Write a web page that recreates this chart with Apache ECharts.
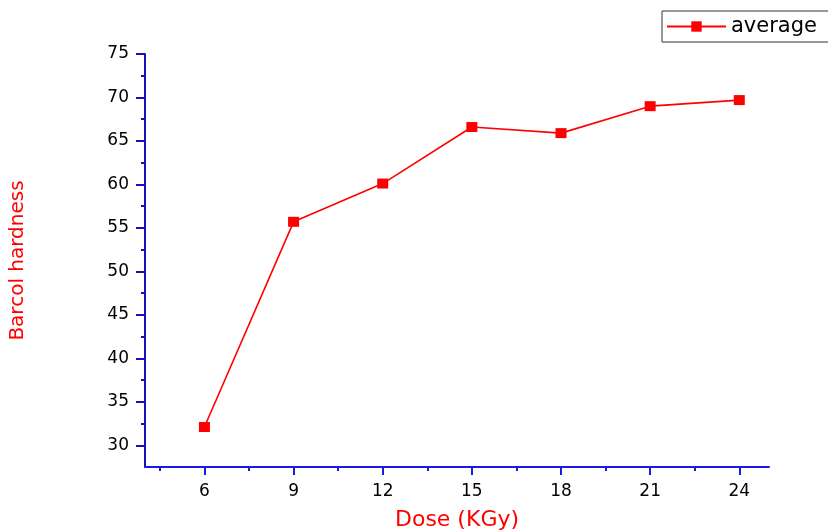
<!DOCTYPE html>
<html>
<head>
<meta charset="utf-8">
<script src="https://cdn.jsdelivr.net/npm/echarts@6/dist/echarts.min.js"></script>
<style>html,body{margin:0;padding:0;background:#fff}#c{width:828px;height:532px}</style>
</head>
<body>
<div id="c"></div>
<script>
var doses = [6, 9, 12, 15, 18, 21, 24];
var average = [32.1, 55.7, 60.1, 66.6, 65.9, 69.0, 69.7];
var yMajorTicks = [30, 35, 40, 45, 50, 55, 60, 65, 70, 75];
var yMinorTicks = [32.5, 37.5, 42.5, 47.5, 52.5, 57.5, 62.5, 67.5, 72.5];
var xMajorTicks = [6, 9, 12, 15, 18, 21, 24];
var xMinorTicks = [4.5, 7.5, 10.5, 13.5, 16.5, 19.5, 22.5];

var xAxisColor = '#1a1ae6';
var yAxisColor = '#1414b4';
var font = 'DejaVu Sans';
var chart = echarts.init(document.getElementById('c'), null, {renderer: 'canvas'});
var pts = doses.map(function (d, i) { return [d, average[i]]; });

chart.setOption({
  animation: false,
  backgroundColor: '#fff',
  grid: {left: 145, right: 59, top: 54, bottom: 65, containLabel: false, outerBoundsMode: 'none'},
  legend: {
    data: ['average'], left: 662, top: 11,
    itemWidth: 59, itemHeight: 13, itemGap: 8,
    padding: [5, 30, 5, 4],
    borderColor: '#333', borderWidth: 1, borderRadius: 0,
    textStyle: {fontFamily: font, fontSize: 21, color: '#000'}
  },
  xAxis: [{
    type: 'value', min: 4, max: 25,
    name: 'Dose (KGy)', nameLocation: 'middle', nameGap: 42,
    nameTextStyle: {fontFamily: font, fontSize: 22, color: '#ff0000'},
    axisLine: {show: true, lineStyle: {color: xAxisColor, width: 2}},
    axisTick: {show: true, inside: false, length: 8, customValues: xMajorTicks, lineStyle: {color: xAxisColor, width: 2}},
    axisLabel: {customValues: xMajorTicks, margin: 16, fontFamily: font, fontSize: 17, color: '#000'},
    splitLine: {show: false}
  }, {
    type: 'value', min: 4, max: 25, position: 'bottom',
    axisLine: {show: false},
    axisTick: {show: true, inside: false, length: 4, customValues: xMinorTicks, lineStyle: {color: xAxisColor, width: 2}},
    axisLabel: {show: false},
    splitLine: {show: false}
  }],
  yAxis: [{
    type: 'value', min: 27.5, max: 75,
    name: 'Barcol hardness', nameLocation: 'middle', nameGap: 117, nameRotate: 90,
    nameTextStyle: {fontFamily: font, fontSize: 20, color: '#ff0000'},
    axisLine: {show: true, lineStyle: {color: yAxisColor, width: 2}},
    axisTick: {show: true, inside: false, length: 9, customValues: yMajorTicks, lineStyle: {color: yAxisColor, width: 2}},
    axisLabel: {customValues: yMajorTicks, margin: 16, fontFamily: font, fontSize: 17, color: '#000'},
    splitLine: {show: false}
  }, {
    type: 'value', min: 27.5, max: 75, position: 'left',
    axisLine: {show: false},
    axisTick: {show: true, inside: false, length: 4, customValues: yMinorTicks, lineStyle: {color: yAxisColor, width: 2}},
    axisLabel: {show: false},
    splitLine: {show: false}
  }],
  series: [{
    name: 'average', type: 'line', data: pts,
    xAxisIndex: 0, yAxisIndex: 0,
    symbol: 'rect', symbolSize: [11, 10],
    lineStyle: {color: '#ff0000', width: 1.6},
    itemStyle: {color: '#ff0000'}
  }]
});
</script>
</body>
</html>
